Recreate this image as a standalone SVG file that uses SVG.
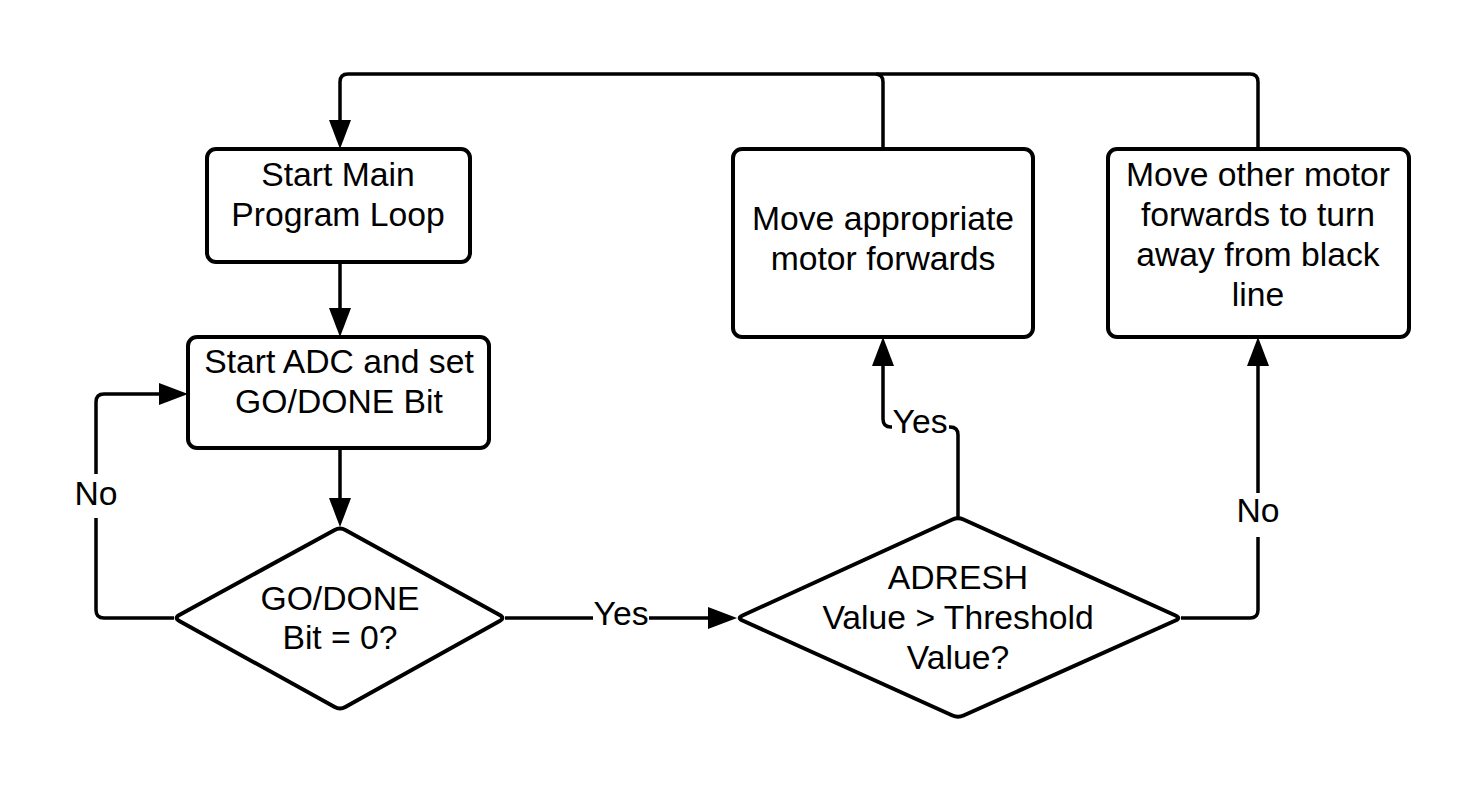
<svg xmlns="http://www.w3.org/2000/svg" width="1483" height="797" viewBox="0 0 1483 797">
<defs>
<style>
.node{fill:#fff;stroke:#000;stroke-width:4;stroke-linejoin:round}
.conn{fill:none;stroke:#000;stroke-width:3.5;stroke-linejoin:round}
.t{font-family:"Liberation Sans",Arial,sans-serif;font-size:33.7px;fill:#000;text-anchor:middle}
.lbl{fill:#fff}
</style>
<marker id="arr" markerUnits="userSpaceOnUse" markerWidth="30" markerHeight="24" refX="0" refY="11" orient="auto">
<path d="M0,0 L29,11 L0,22 Z" fill="#000"/>
</marker>
</defs>
<rect x="0" y="0" width="1483" height="797" fill="#fff"/>
<g id="connectors">
<path class="conn" d="M883,149 V82 Q883,74 875,74 H348 Q340,74 340,82 V120" marker-end="url(#arr)"/>
<path class="conn" d="M1258,149 V82 Q1258,74 1250,74 H876"/>
<path class="conn" d="M340,262 V308" marker-end="url(#arr)"/>
<path class="conn" d="M340,448 V498" marker-end="url(#arr)"/>
<path class="conn" d="M174,618 H104 Q96,618 96,610 V402 Q96,394 104,394 H159" marker-end="url(#arr)"/>
<path class="conn" d="M505,618 H708" marker-end="url(#arr)"/>
<path class="conn" d="M958,517 V435 Q958,427 950,427 H891 Q883,427 883,419 V366" marker-end="url(#arr)"/>
<path class="conn" d="M1181,618 H1250 Q1258,618 1258,610 V366" marker-end="url(#arr)"/>
<rect class="lbl" x="72" y="474" width="48" height="44"/>
<text class="t" x="96" y="505">No</text>
<rect class="lbl" x="593" y="598" width="56" height="40"/>
<text class="t" x="621" y="625">Yes</text>
<rect class="lbl" x="892" y="408" width="57" height="40"/>
<text class="t" x="920" y="433">Yes</text>
<rect class="lbl" x="1234" y="493" width="48" height="44"/>
<text class="t" x="1258" y="522">No</text>
</g>
<g id="start-main">
<rect class="node" x="207" y="149" width="263" height="113" rx="9"/>
<text class="t" x="338" y="186">Start Main</text>
<text class="t" x="338" y="226">Program Loop</text>
</g>
<g id="start-adc">
<rect class="node" x="188" y="337" width="301" height="111" rx="9"/>
<text class="t" x="339" y="373">Start ADC and set</text>
<text class="t" x="339" y="413">GO/DONE Bit</text>
</g>
<g id="go-done">
<path class="node" d="M345.3,529.9 L499.7,615.1 Q505,618 499.7,620.9 L345.3,707.1 Q340,710 334.7,707.1 L179.3,620.9 Q174,618 179.3,615.1 L334.7,529.9 Q340,527 345.3,529.9 Z"/>
<text class="t" x="340" y="610">GO/DONE</text>
<text class="t" x="340" y="649">Bit = 0?</text>
</g>
<g id="adresh">
<path class="node" d="M963.5,519.5 L1175.5,615.5 Q1181,618 1175.5,620.5 L963.5,715.5 Q958,718 952.5,715.5 L742.5,620.5 Q737,618 742.5,615.5 L952.5,519.5 Q958,517 963.5,519.5 Z"/>
<text class="t" x="958" y="589">ADRESH</text>
<text class="t" x="958" y="629">Value &gt; Threshold</text>
<text class="t" x="958" y="669">Value?</text>
</g>
<g id="move-appropriate">
<rect class="node" x="733" y="149" width="300" height="188" rx="9"/>
<text class="t" x="883" y="230">Move appropriate</text>
<text class="t" x="883" y="270">motor forwards</text>
</g>
<g id="move-other">
<rect class="node" x="1108" y="149" width="301" height="188" rx="9"/>
<text class="t" x="1258" y="186">Move other motor</text>
<text class="t" x="1258" y="226">forwards to turn</text>
<text class="t" x="1258" y="266">away from black</text>
<text class="t" x="1258" y="306">line</text>
</g>
</svg>
